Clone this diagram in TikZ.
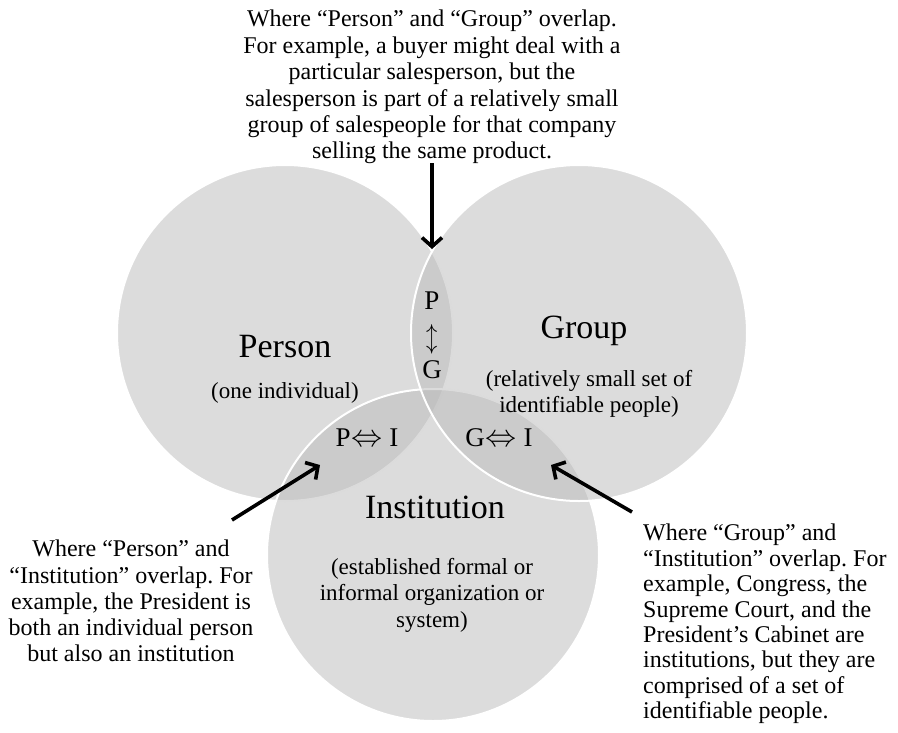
\documentclass[tikz,border=0pt]{standalone}
\usepackage{fontspec}
\usepackage{graphicx}
\setmainfont{Liberation Serif}
\usetikzlibrary{arrows.meta}
\definecolor{vennfill}{gray}{0.73}
\frenchspacing
\begin{document}
\begin{tikzpicture}[x=1pt,y=-1pt,
  venn/.style={circle, inner sep=0pt, minimum size=#1, fill=vennfill,
    fill opacity=0.51, draw=white, line width=2pt},
  ann/.style={inner sep=0pt, font=\fontsize{24}{26.4}\selectfont},
  big/.style={inner sep=0pt, font=\fontsize{34}{40}\selectfont},
  desc/.style={inner sep=0pt, align=center, font=\fontsize{23}{26.5}\selectfont},
  lens/.style={inner sep=0pt, font=\fontsize{27}{30}\selectfont},
  pointer/.style={line width=3.6pt, -{Straight Barb[length=9pt,width=20pt,line width=3.6pt]}}
]
\useasboundingbox (0,0) rectangle (898,732);
% circles
\node[venn=336pt] (person) at (285,333) {};
\node[venn=332pt] (inst) at (433,555) {};
\node[venn=336pt] (group) at (579,333) {};
% labels
\node[big, anchor=base] (lperson) at (285,357) {Person};
\node[desc, anchor=base] (dperson) at (285,398) {(one individual)};
\node[big, anchor=base] (lgroup) at (584,338) {Group};
\node[desc, anchor=north] (dgroup) at (589,370) {(relatively small set of\\identifiable people)};
\node[big, anchor=base] (linst) at (435,518) {Institution};
\node[desc, anchor=north] (dinst) at (432,558) {(established formal or\\informal organization or\\system)};
% lens labels
\node[lens, anchor=base] (pg1) at (432,309) {P};
\node[lens] (pg2) at (432,339) {\scalebox{0.9}[1.15]{$\updownarrow$}};
\node[lens, anchor=base] (pg3) at (432,378) {G};
\node[lens, anchor=base] (pi) at (367,446) {P\kern1pt\scalebox{1.25}{$\Leftrightarrow$} I};
\node[lens, anchor=base] (gi) at (499,446) {G\kern1pt\scalebox{1.25}{$\Leftrightarrow$} I};
% annotations
\node[ann, align=center, anchor=north] (ntop) at (432,10)
  {Where “Person” and “Group” overlap.\\For example, a buyer might deal with a\\particular salesperson, but the\\salesperson is part of a relatively small\\group of salespeople for that company\\selling the same product.};
\node[ann, align=center, anchor=north, font=\fontsize{24}{26.2}\selectfont] (nleft) at (131,540)
  {Where “Person” and\\“Institution” overlap. For\\example, the President is\\both an individual person\\but also an institution};
\node[ann, align=left, anchor=north west, font=\fontsize{24}{25.4}\selectfont] (nright) at (643,524)
  {Where “Group” and\\“Institution” overlap. For\\example, Congress, the\\Supreme Court, and the\\President’s Cabinet are\\institutions, but they are\\comprised of a set of\\identifiable people.};
% pointer arrows
\coordinate (ta) at (432,163);
\coordinate (tb) at (432,249);
\coordinate (la) at (232,520);
\coordinate (lb) at (320,465);
\coordinate (ra) at (632,512);
\coordinate (rb) at (551,465);
\draw[pointer] (ta) -- (tb);
\draw[pointer] (la) -- (lb);
\draw[pointer] (ra) -- (rb);
\end{tikzpicture}
\end{document}
